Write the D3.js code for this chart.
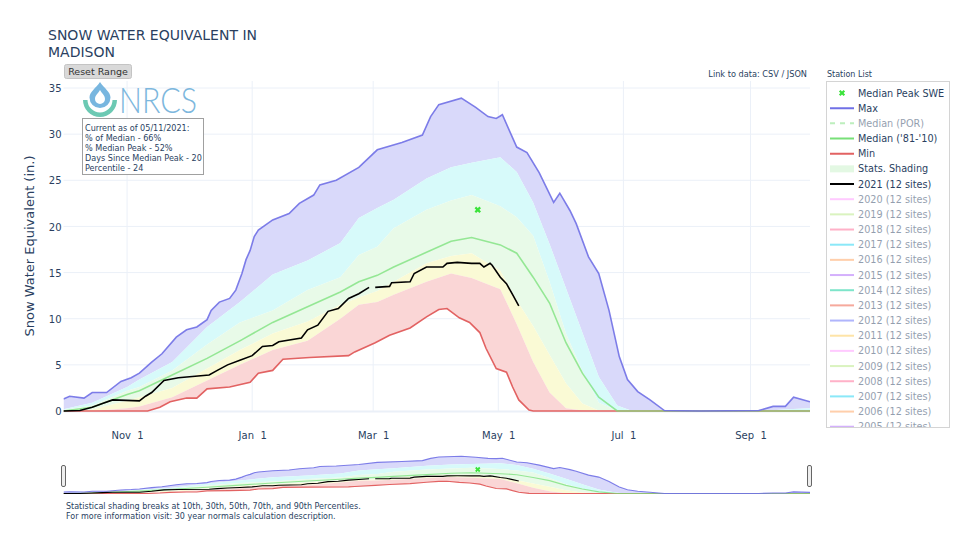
<!DOCTYPE html>
<html><head><meta charset="utf-8">
<script src="https://cdn.jsdelivr.net/npm/d3@7"></script>
<style>
body{margin:0;background:#fff}
svg{display:block}
text{font-family:"DejaVu Sans",Verdana,sans-serif;fill:#2a3f5f}
</style>
</head><body>
<svg id="chart" width="960" height="560"></svg>
<script>
// ---------------- DATA ----------------
const chartTitle = ["SNOW WATER EQUIVALENT IN", "MADISON"];
const yTicks = [0, 5, 10, 15, 20, 25, 30, 35];
const xTickDates = ["2020-11-01", "2021-01-01", "2021-03-01", "2021-05-01", "2021-07-01", "2021-09-01"];

const statDates = ["2020-10-01","2020-10-15","2020-11-01","2020-11-07","2020-11-23","2020-12-10","2020-12-26",
  "2021-01-11","2021-01-28","2021-02-13","2021-02-22","2021-03-03","2021-03-11","2021-03-27","2021-04-08",
  "2021-04-18","2021-05-02","2021-05-10","2021-05-18","2021-05-26","2021-06-03","2021-06-11","2021-06-19",
  "2021-06-28","2021-07-04","2021-07-19","2021-08-07","2021-09-06","2021-09-19","2021-09-30"];
const p90 = [0.2,0.9,2.6,3.4,5.3,9.1,11.8,14.8,16.3,18.2,20.9,22.0,22.9,25.2,26.4,26.9,27.5,25.9,22.6,18.1,13.3,8.5,3.7,0.6,0.1,0,0,0,0.2,0.3];
const p70 = [0.1,0.6,2.2,2.6,4.4,7.2,9.6,10.9,13.1,14.5,16.9,17.8,19.8,21.8,22.8,23.4,22.2,21.0,19.0,14.0,8.4,4.3,0.9,0.05,0,0,0,0,0,0];
const p30 = [0,0.15,1.1,1.5,2.5,4.6,6.6,8.4,9.7,11.5,12.3,13.0,14.0,16.0,16.8,17.1,15.2,12.0,9.2,6.1,3.0,0.8,0.05,0,0,0,0,0,0,0];
const p10 = [0,0,0.3,0.5,1.5,3.3,5.0,6.6,7.6,10.0,11.5,11.8,12.6,14.0,14.9,14.4,13.2,9.4,5.3,2.0,0.3,0.05,0,0,0,0,0,0,0,0];
const median8110 = [0,0.4,1.8,2.2,3.9,5.7,7.6,9.6,11.3,12.9,14.0,14.7,15.6,17.2,18.4,18.8,18.0,17.1,14.5,11.7,7.4,4.1,1.5,0,0,0,0,0,0,0];

const maxDates = ["2020-10-01","2020-10-04","2020-10-11","2020-10-15","2020-10-22","2020-10-29","2020-11-03","2020-11-07",
  "2020-11-13","2020-11-18","2020-11-25","2020-11-30","2020-12-05","2020-12-10","2020-12-12","2020-12-16","2020-12-21",
  "2020-12-24","2020-12-27","2020-12-29","2020-12-31","2021-01-02","2021-01-04","2021-01-11","2021-01-19","2021-01-24",
  "2021-01-31","2021-02-03","2021-02-11","2021-02-22","2021-03-03","2021-03-15","2021-03-25","2021-03-29","2021-04-02",
  "2021-04-13","2021-04-20","2021-04-26","2021-04-30","2021-05-03","2021-05-10","2021-05-15","2021-05-21","2021-05-28",
  "2021-05-31","2021-06-05","2021-06-08","2021-06-14","2021-06-19","2021-06-24","2021-06-29","2021-07-03","2021-07-08",
  "2021-07-14","2021-07-21","2021-08-07","2021-09-05","2021-09-12","2021-09-18","2021-09-22","2021-09-30"];
const maxValues = [1.3,1.6,1.4,2.0,2.0,3.2,3.6,4.1,5.3,6.2,8.0,8.8,9.1,9.9,10.9,11.8,12.2,13.1,14.9,16.4,17.4,18.9,19.6,
  20.7,21.4,22.5,23.4,24.5,25.0,26.4,28.3,29.1,29.9,31.9,33.2,33.9,32.9,31.9,31.7,32.1,28.6,28.0,25.8,22.6,23.6,21.7,
  20.3,16.7,14.9,10.9,5.9,3.4,2.1,1.2,0.05,0,0.05,0.5,0.5,1.5,1.0];

const minDates = ["2020-10-01","2020-11-11","2020-11-17","2020-11-22","2020-11-30","2020-12-05","2020-12-10","2020-12-21",
  "2020-12-31","2021-01-04","2021-01-11","2021-01-16","2021-01-29","2021-02-17","2021-02-20","2021-03-02","2021-03-09",
  "2021-03-19","2021-03-27","2021-04-02","2021-04-06","2021-04-12","2021-04-17","2021-04-22","2021-04-25","2021-04-30",
  "2021-05-05","2021-05-08","2021-05-11","2021-05-16","2021-05-18","2021-09-30"];
const minValues = [0,0,0.4,1.0,1.4,1.4,2.4,2.6,3.1,4.1,4.4,5.6,5.8,6.0,6.4,7.4,8.2,9.0,10.2,11.0,11.1,10.1,9.6,8.5,6.8,4.6,
  4.2,2.6,1.2,0.1,0,0];

const wy2021Dates = ["2020-10-01","2020-10-09","2020-10-15","2020-10-20","2020-10-25","2020-11-07","2020-11-10","2020-11-13",
  "2020-11-19","2020-11-26","2020-12-11","2020-12-15","2020-12-20","2020-12-26","2021-01-01","2021-01-06","2021-01-11",
  "2021-01-14","2021-01-25","2021-01-28","2021-02-02","2021-02-07","2021-02-12","2021-02-17","2021-02-22","2021-02-27",
  "2021-02-28","2021-03-02","2021-03-09","2021-03-10","2021-03-19","2021-03-21","2021-03-27","2021-04-04","2021-04-06",
  "2021-04-11","2021-04-18","2021-04-22","2021-04-24","2021-04-27","2021-04-28","2021-05-02","2021-05-05","2021-05-08",
  "2021-05-11"];
const wy2021Values = [0,0.05,0.4,0.8,1.2,1.1,1.6,2.0,3.3,3.6,3.9,4.4,5.0,5.5,6.0,7.0,7.1,7.5,7.9,8.8,9.3,10.8,11.1,12.2,
  12.7,13.4,null,13.4,13.5,13.9,14.0,14.9,15.6,15.6,16.0,16.1,16.0,16.0,15.6,16.0,15.8,14.5,13.8,12.6,11.4];

const medianPeakDate = "2021-04-21";
const medianPeakValue = 21.8;

const infoLines = ["Current as of 05/11/2021:", "% of Median - 66%", "% Median Peak - 52%",
  "Days Since Median Peak - 20", "Percentile - 24"];

const legendMain = ["Median Peak SWE", "Max", "Median (POR)", "Median ('81-'10)", "Min", "Stats. Shading", "2021 (12 sites)"];
const pastYears = [2020,2019,2018,2017,2016,2015,2014,2013,2012,2011,2010,2009,2008,2007,2006,2005];
const pastYearColors = ["#FF97FF","#B6E880","#FF6692","#19d3f3","#FFA15A","#ab63fa","#00cc96","#EF553B","#636efa",
  "#FECB52","#FF97FF","#B6E880","#FF6692","#19d3f3","#FFA15A","#ab63fa"];

const notes = ["Statistical shading breaks at 10th, 30th, 50th, 70th, and 90th Percentiles.",
  "For more information visit: 30 year normals calculation description."];

// ---------------- STYLE ----------------
const C = {
  max: "#7070e6", min: "#e26262", med: "#78e078", black: "#000",
  fBlue: "#d9d9fa", fCyan: "#d7fafa", fGreen: "#e8fae8", fYellow: "#fafad5", fRed: "#fad6d6",
  grid: "#ebf0f8", marker: "#3ae33a"
};

const parse = d3.utcParse("%Y-%m-%d");
const svg = d3.select("#chart");
const L = {left: 63.5, right: 810, top: 81, bottom: 411};
const x = d3.scaleUtc().domain([parse("2020-10-01"), parse("2021-09-30")]).range([L.left, L.right]);
const y = d3.scaleLinear().domain([0, 35]).range([L.bottom, 88]);
const ys = d3.scaleLinear().domain([0, 35]).range([493.5, 455]);

const zip = (ds, vs) => ds.map((d, i) => [parse(d), vs[i]]);
const S = {
  p90: zip(statDates, p90), p70: zip(statDates, p70), p30: zip(statDates, p30), p10: zip(statDates, p10),
  med: zip(statDates, median8110), max: zip(maxDates, maxValues), min: zip(minDates, minValues),
  wy: zip(wy2021Dates, wy2021Values)
};

const defs = svg.append("defs");
defs.append("clipPath").attr("id", "clipMain").append("rect")
  .attr("x", L.left).attr("y", L.top).attr("width", L.right - L.left).attr("height", L.bottom - L.top + 3);
defs.append("clipPath").attr("id", "clipSlider").append("rect")
  .attr("x", L.left).attr("y", 452).attr("width", L.right - L.left).attr("height", 43);
defs.append("clipPath").attr("id", "clipLegend").append("rect")
  .attr("x", 826).attr("y", 81.5).attr("width", 124).attr("height", 345.5);

// ---------------- GRID ----------------
const grid = svg.append("g");
grid.selectAll(".hg").data(yTicks.filter(t => t > 0)).join("line")
  .attr("x1", L.left).attr("x2", L.right).attr("y1", d => y(d)).attr("y2", d => y(d))
  .attr("stroke", C.grid).attr("stroke-width", 1);
grid.selectAll(".vg").data(xTickDates).join("line")
  .attr("x1", d => x(parse(d))).attr("x2", d => x(parse(d))).attr("y1", L.top).attr("y2", L.bottom)
  .attr("stroke", C.grid).attr("stroke-width", 1);

// ---------------- DRAW DATA ----------------
function drawSeries(g, yy, lw, msize) {
  const line = d3.line().defined(d => d[1] != null).x(d => x(d[0])).y(d => yy(d[1]));
  const band = (up, lo) => line(up.concat(lo.slice().reverse())) + "Z";
  g.append("path").attr("d", band(S.max, S.p90)).attr("fill", C.fBlue);
  g.append("path").attr("d", band(S.p90, S.p70)).attr("fill", C.fCyan);
  g.append("path").attr("d", band(S.p70, S.p30)).attr("fill", C.fGreen);
  g.append("path").attr("d", band(S.p30, S.p10)).attr("fill", C.fYellow);
  g.append("path").attr("d", band(S.p10, S.min)).attr("fill", C.fRed);
  g.append("path").attr("d", line(S.min)).attr("fill", "none").attr("stroke", C.min).attr("stroke-width", lw);
  g.append("path").attr("d", line(S.med)).attr("fill", "none").attr("stroke", C.med).attr("stroke-width", lw).attr("opacity", 0.75);
  g.append("path").attr("d", line(S.max)).attr("fill", "none").attr("stroke", C.max).attr("stroke-width", lw).attr("opacity", 0.9);
  g.append("path").attr("d", line(S.wy)).attr("fill", "none").attr("stroke", C.black).attr("stroke-width", lw);
  g.append("path").attr("d", d3.symbol(d3.symbolCross, msize)())
    .attr("transform", `translate(${x(parse(medianPeakDate))},${yy(medianPeakValue)}) rotate(45)`)
    .attr("fill", C.marker);
}
drawSeries(svg.append("g").attr("clip-path", "url(#clipMain)"), y, 1.6, 26);

// zero line
svg.append("line").attr("x1", L.left).attr("x2", L.right).attr("y1", L.bottom + 0.5).attr("y2", L.bottom + 0.5)
  .attr("stroke", C.grid).attr("stroke-width", 2).lower();

// ---------------- AXES ----------------
const yAxis = svg.append("g").attr("transform", `translate(${L.left - 1},0)`)
  .call(d3.axisLeft(y).tickValues(yTicks).tickSize(0).tickPadding(1));
yAxis.select(".domain").remove();
yAxis.selectAll("text").style("font-family", "DejaVu Sans").style("font-size", "10px").attr("fill", "#2a3f5f").attr("dy", "0.36em");

const fmt = d3.utcFormat("%b %e");
const xAxis = svg.append("g").attr("transform", `translate(0,${L.bottom})`)
  .call(d3.axisBottom(x).tickValues(xTickDates.map(parse)).tickFormat(fmt).tickSize(0).tickPadding(21));
xAxis.select(".domain").remove();
xAxis.selectAll("text").style("font-family", "DejaVu Sans").style("font-size", "10px").attr("fill", "#2a3f5f")
  .style("white-space", "pre").attr("xml:space", "preserve");

svg.append("text").attr("transform", "translate(34,246) rotate(-90)").attr("text-anchor", "middle")
  .style("font-size", "13px").text("Snow Water Equivalent (in.)");

// ---------------- TITLE ----------------
svg.selectAll(".title").data(chartTitle).join("text")
  .attr("x", 48).attr("y", (d, i) => 40 + i * 17).style("font-size", "14px").text(d => d);

// Reset Range button
svg.append("rect").attr("x", 64.5).attr("y", 64.5).attr("width", 67).attr("height", 14).attr("rx", 2)
  .attr("fill", "#d9d9d9").attr("stroke", "#c4c4c4");
svg.append("text").attr("x", 98).attr("y", 75).attr("text-anchor", "middle").style("font-size", "9.5px")
  .style("fill", "#333").text("Reset Range");

// ---------------- LOGO ----------------
const logo = svg.append("g");
logo.append("path").attr("d", "M83,100 A17,17 0 0 0 117,100 L112.5,100 A12.5,12.5 0 0 1 87.5,100 Z").attr("fill", "#6cc9b3");
logo.append("path").attr("d", "M100,82 C104,88 110.5,92 110.5,97.5 A10.5,10.5 0 1 1 89.5,97.5 C89.5,92 96,88 100,82 Z").attr("fill", "#78b6df");
logo.append("path").attr("d", "M100,90 C102,93.5 105,95.5 105,99 A5,5 0 1 1 95,99 C95,95.5 98,93.5 100,90 Z").attr("fill", "#fff");
logo.append("text").attr("x", 119).attr("y", 113).attr("textLength", 78).attr("lengthAdjust", "spacingAndGlyphs")
  .style("font-family", "Lato, 'Open Sans', sans-serif").style("font-weight", 300).style("font-size", "35px")
  .style("fill", "#7db7dd").text("NRCS");

// ---------------- INFO BOX ----------------
svg.append("rect").attr("x", 82.5).attr("y", 118.5).attr("width", 121).attr("height", 56)
  .attr("fill", "#fff").attr("stroke", "#a0a0a0");
svg.selectAll(".info").data(infoLines).join("text")
  .attr("x", 85).attr("y", (d, i) => 130.5 + i * 10).style("font-size", "8.1px").text(d => d);

// ---------------- TOP RIGHT TEXT ----------------
svg.append("text").attr("x", 807).attr("y", 77).attr("text-anchor", "end").style("font-size", "8.2px").text("Link to data: CSV / JSON");
svg.append("text").attr("x", 827).attr("y", 77).style("font-size", "8px").text("Station List");

// ---------------- LEGEND ----------------
svg.append("rect").attr("x", 826.5).attr("y", 81.5).attr("width", 123).attr("height", 346)
  .attr("fill", "#fff").attr("stroke", "#d4d4d4");
const lg = svg.append("g").attr("clip-path", "url(#clipLegend)");
const items = [
  {t: legendMain[0], kind: "marker", color: C.marker, op: 1},
  {t: legendMain[1], kind: "line", color: C.max, op: 1},
  {t: legendMain[2], kind: "dash", color: "#7de07d", op: 0.5},
  {t: legendMain[3], kind: "line", color: C.med, op: 1},
  {t: legendMain[4], kind: "line", color: C.min, op: 1},
  {t: legendMain[5], kind: "fill", color: "#e3f8e3", op: 1},
  {t: legendMain[6], kind: "line", color: "#000", op: 1}
].concat(pastYears.map((yr, i) => ({t: `${yr} (12 sites)`, kind: "line", color: pastYearColors[i], op: 0.5})));
items.forEach((it, i) => {
  const cy = 93 + i * 15.17;
  const g = lg.append("g").attr("opacity", it.op);
  if (it.kind === "marker") {
    g.append("path").attr("d", d3.symbol(d3.symbolCross, 24)()).attr("transform", `translate(842,${cy}) rotate(45)`).attr("fill", it.color);
  } else if (it.kind === "fill") {
    g.append("rect").attr("x", 830).attr("y", cy - 3.5).attr("width", 24).attr("height", 7).attr("fill", it.color);
  } else {
    g.append("line").attr("x1", 830).attr("x2", 854).attr("y1", cy).attr("y2", cy).attr("stroke", it.color)
      .attr("stroke-width", 2).attr("stroke-dasharray", it.kind === "dash" ? "5,5" : null);
  }
  g.append("text").attr("x", 858).attr("y", cy + 3.5).style("font-size", "9.7px").text(it.t);
});

// ---------------- RANGE SLIDER ----------------
drawSeries(svg.append("g").attr("clip-path", "url(#clipSlider)"), ys, 1.1, 18);
[62, 808].forEach(hx => {
  svg.append("rect").attr("x", hx - 0.5).attr("y", 465.5).attr("width", 4).attr("height", 21).attr("rx", 1.5)
    .attr("fill", "#eee").attr("stroke", "#666").attr("stroke-width", 1);
});

// ---------------- NOTES ----------------
svg.selectAll(".note").data(notes).join("text")
  .attr("x", 66).attr("y", (d, i) => 509 + i * 10).style("font-size", "8px").text(d => d);
</script>
</body></html>
